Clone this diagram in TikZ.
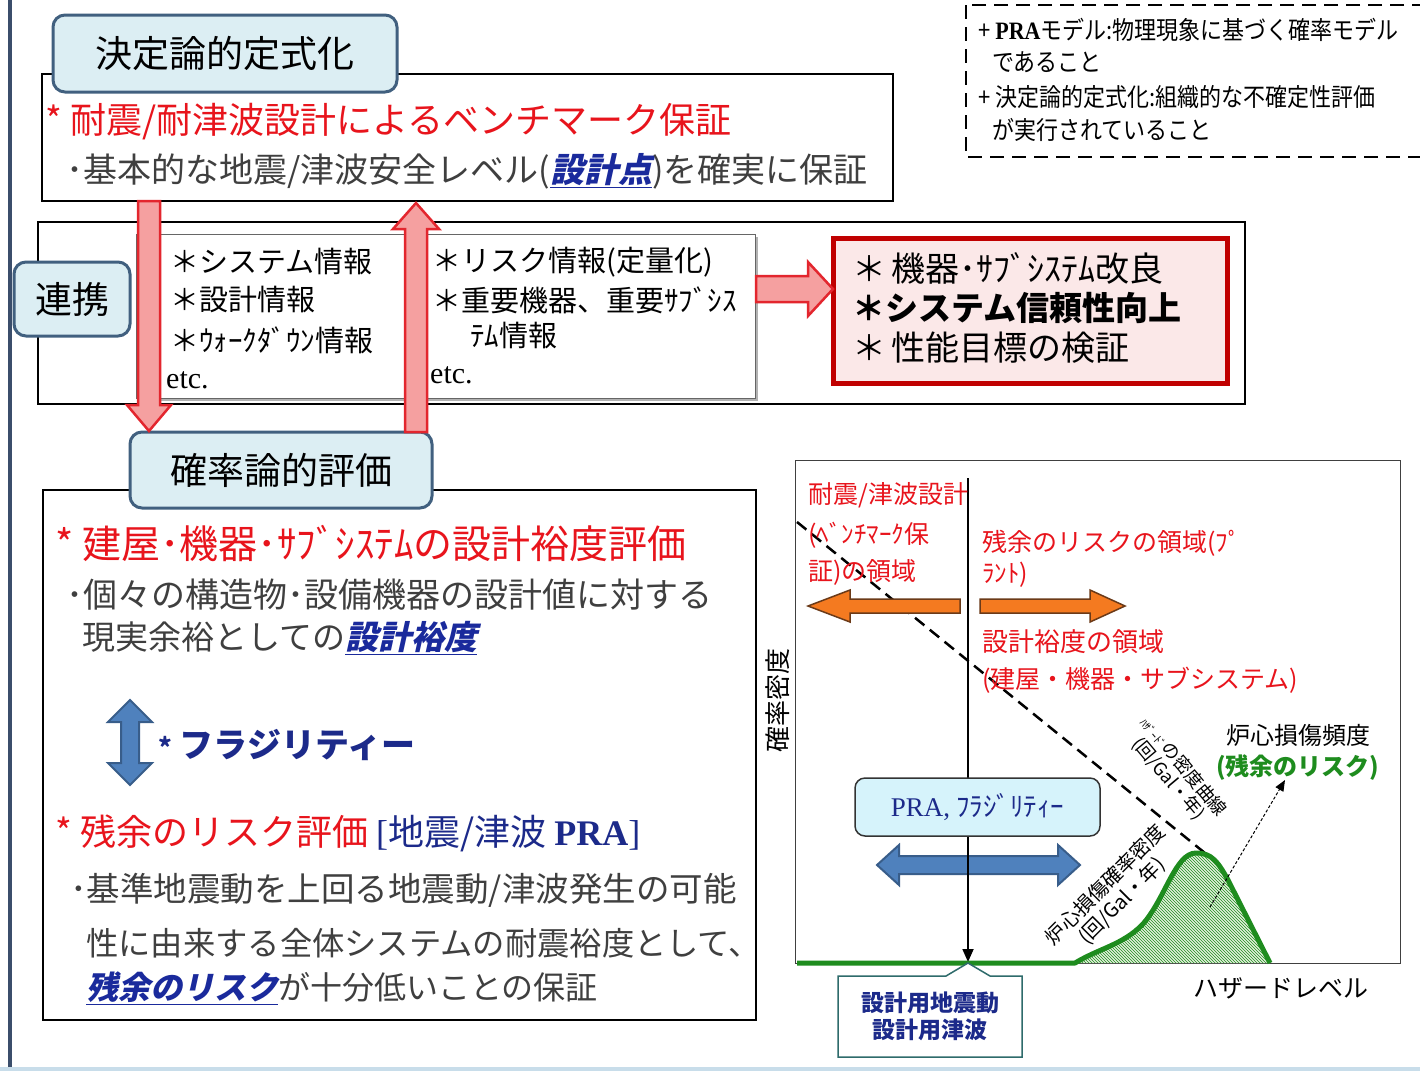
\documentclass[tikz,border=0pt]{standalone}
\usepackage{fontspec}
\usepackage{graphicx}
\setmainfont{Noto Sans CJK JP}
\newfontfamily\serif{Liberation Serif}
\newfontfamily\jpsl{Noto Sans CJK JP}[FakeSlant=0.22,BoldFeatures={FakeSlant=0.22}]
\usetikzlibrary{patterns,arrows.meta}
\newcommand\fs[1]{\fontsize{#1}{#1}\selectfont}
\newcommand\sx[2]{\scalebox{#1}[1]{#2}}
\newcommand\emb[1]{\underline{{\jpsl\bfseries #1}}}
\definecolor{tred}{HTML}{E8141C}
\definecolor{tgray}{HTML}{3F3F3F}
\definecolor{tblue}{HTML}{1A2A9C}
\definecolor{navytwo}{HTML}{1C2A8A}
\definecolor{boxfill}{HTML}{DCEEF3}
\definecolor{boxdraw}{HTML}{41607F}
\definecolor{arfill}{HTML}{4F81BD}
\definecolor{ardraw}{HTML}{385D8A}
\definecolor{orfill}{HTML}{F47A20}
\definecolor{ordraw}{HTML}{6B3A18}
\definecolor{rbfill}{HTML}{FBE8E8}
\definecolor{rbdraw}{HTML}{C00000}
\definecolor{rafill}{HTML}{F5A0A0}
\definecolor{radraw}{HTML}{E3262E}
\definecolor{prafill}{HTML}{D6F3FB}
\definecolor{calldraw}{HTML}{2E6B6B}
\definecolor{cgreen}{HTML}{1E8C1E}
\definecolor{hatchfill}{HTML}{E4F1DC}
\definecolor{leftbar}{HTML}{3B4E6B}
\definecolor{botline}{HTML}{C8DDEA}
\begin{document}
\begin{tikzpicture}[x=1pt,y=-1pt,
  txt/.style={inner sep=0pt,anchor=west},
  titlebox/.style={draw=boxdraw,fill=boxfill,line width=3pt,rounded corners=12pt,inner sep=0pt,font=\fs{37}},
  plainbox/.style={draw=black,line width=1.8pt,inner sep=0pt,fill=white},
  redarrow/.style={draw=radraw,fill=rafill,line width=2.5pt,line join=miter},
  bluearrow/.style={draw=ardraw,fill=arfill,line width=2pt},
  orarrow/.style={draw=ordraw,fill=orfill,line width=1.5pt}]
\useasboundingbox (0,0) rectangle (1420,1077);
\fill[white] (0,0) rectangle (1420,1077);
% frame decorations
\fill[leftbar] (8,0) rectangle (12,1068);
\fill[botline] (0,1067) rectangle (1420,1071);

% ---------- top: deterministic ----------
\node[plainbox,minimum width=851pt,minimum height=127pt] (detbox) at (467.5,137.5) {};
\node[titlebox,minimum width=344pt,minimum height=77pt] (ketei) at (225,53.5) {決定論的定式化};
\node[txt,text=tred,font=\fs{36}] (t1) at (45,122) {* 耐震/耐津波設計によるベンチマーク保証};
\node[txt,text=tgray,font=\fs{34}] (t2) at (66,171) {･基本的な地震/津波安全レベル(\textcolor{tblue}{\emb{設計点}})を確実に保証};

% ---------- dashed note ----------
\draw[dash pattern=on 14pt off 8pt,line width=2pt] (966,5) rectangle (1440,157);
\node[txt,font=\fs{25}] (n1) at (978,30) {\sx{0.88}{+ {\serif\bfseries PRA}モデル:物理現象に基づく確率モデル}};
\node[txt,font=\fs{25}] (n2) at (992,62) {\sx{0.88}{であること}};
\node[txt,font=\fs{25}] (n3) at (978,97) {\sx{0.88}{+ 決定論的定式化:組織的な不確定性評価}};
\node[txt,font=\fs{25}] (n4) at (992,130) {\sx{0.88}{が実行されていること}};

% ---------- middle: cooperation ----------
\node[plainbox,minimum width=1207pt,minimum height=182pt] (midbox) at (641.5,313) {};
\fill[black!30] (139,237) rectangle (758,401);
\node[draw=black!60,line width=1pt,fill=white,minimum width=619pt,minimum height=164pt,inner sep=0pt] (info) at (445.5,316) {};
\node[titlebox,minimum width=116pt,minimum height=74pt] (renkei) at (72,299) {連携};
\node[txt,font=\fs{29}] (s1) at (170,262) {＊システム情報};
\node[txt,font=\fs{29}] (s2) at (170,300) {＊設計情報};
\node[txt,font=\fs{29}] (s3) at (170,340) {＊ｳｫｰｸﾀﾞｳﾝ情報};
\node[txt,font=\serif\fs{30}] (s4) at (166,380) {etc.};
\node[txt,font=\fs{29}] (r1) at (432,262) {＊リスク情報(定量化)};
\node[txt,font=\fs{29}] (r2) at (432,300) {＊重要機器、重要ｻﾌﾞｼｽ};
\node[txt,font=\fs{29}] (r3) at (470,335) {ﾃﾑ情報};
\node[txt,font=\serif\fs{30}] (r4) at (430,375) {etc.};

\node[draw=rbdraw,fill=rbfill,line width=5pt,minimum width=394pt,minimum height=145pt,inner sep=0pt] (result) at (1030,310.5) {};
\node[txt,font=\fs{34}] (b1) at (852,268) {＊\,機器･ｻﾌﾞｼｽﾃﾑ改良};
\node[txt,font=\fs{33}\bfseries] (b2) at (852,308) {＊システム信頼性向上};
\node[txt,font=\fs{34}] (b3) at (852,348) {＊\,性能目標の検証};

% ---------- bottom-left: probabilistic ----------
\node[plainbox,minimum width=713pt,minimum height=530pt] (probbox) at (399.5,755) {};
\node[titlebox,minimum width=302pt,minimum height=76pt] (kakuritsu) at (281,470) {確率論的評価};

% red block arrows
\draw[redarrow] (138,201) -- (160,201) -- (160,405) -- (171,405) -- (149,431) -- (127,405) -- (138,405) -- cycle;
\draw[redarrow] (405,432) -- (427,432) -- (427,229) -- (439,229) -- (416,203) -- (393,229) -- (405,229) -- cycle;
\draw[redarrow] (756,276) -- (808,276) -- (808,262) -- (833,289) -- (808,316) -- (808,302) -- (756,302) -- cycle;

\node[txt,text=tred,font=\fs{39}] (p1) at (55,543) {* 建屋･機器･ｻﾌﾞｼｽﾃﾑの設計裕度評価};
\node[txt,text=tgray,font=\fs{34}] (p2) at (66,595) {･個々の構造物･設備機器の設計値に対する};
\node[txt,text=tgray,font=\fs{33}] (p3) at (82,638) {現実余裕としての\textcolor{tblue}{\emb{設計裕度}}};
\draw[bluearrow] (130,700) -- (152,722) -- (139,722) -- (139,763) -- (152,763) -- (130,785) -- (108,763) -- (121,763) -- (121,722) -- (108,722) -- cycle;
\node[txt,text=navytwo,font=\fs{34}\bfseries] (p4) at (158,745) {{\fs{26}*} フラジリティー};
\node[txt,font=\fs{36}] (p5) at (55,833) {\textcolor{tred}{* 残余のリスク評価} \textcolor{navytwo}{{\serif[}地震/津波 {\serif\bfseries PRA}{\serif]}}};
\node[txt,text=tgray,font=\fs{33.5}] (p6) at (70,890) {･基準地震動を上回る地震動/津波発生の可能};
\node[txt,text=tgray,font=\fs{32.3}] (p7) at (86,943) {性に由来する全体システムの耐震裕度として、};
\node[txt,text=tgray,font=\fs{32}] (p8) at (86,988) {\textcolor{tblue}{\emb{残余のリスク}}が十分低いことの保証};

% ---------- graph ----------
\node[draw=black!75,line width=1pt,minimum width=605pt,minimum height=503pt,inner sep=0pt] (graph) at (1097.5,711.5) {};
\path[fill=hatchfill] (1075,963) .. controls (1100,948) and (1122,945) .. (1142,925) .. controls (1165,900) and (1175,853) .. (1196,853) .. controls (1212,853) and (1218,862) .. (1228,880) -- (1270,963) -- cycle;
\path[pattern=north west lines,pattern color=cgreen] (1075,963) .. controls (1100,948) and (1122,945) .. (1142,925) .. controls (1165,900) and (1175,853) .. (1196,853) .. controls (1212,853) and (1218,862) .. (1228,880) -- (1270,963) -- cycle;
\draw[dash pattern=on 12pt off 7pt,line width=2.5pt] (797,522) -- (1216,862);

\coordinate (vtop) at (968,478);
\coordinate (vbot) at (968,962);
\draw[bluearrow] (877,865) -- (899,845) -- (899,856) -- (1058,856) -- (1058,845) -- (1080,865) -- (1058,885) -- (1058,874) -- (899,874) -- (899,885) -- cycle;
\draw[line width=1.8pt,-{Triangle[length=13pt,width=11pt]}] (vtop) -- (vbot);
\node[draw=black!80,line width=1.5pt,fill=prafill,rounded corners=10pt,minimum width=245pt,minimum height=58pt,inner sep=0pt,text=navytwo,font=\fs{27}] (prabox) at (977.5,807) {{\serif PRA,} ﾌﾗｼﾞﾘﾃｨｰ};
\draw[cgreen,line width=5pt,line join=round] (797,963) -- (1075,963) .. controls (1100,948) and (1122,945) .. (1142,925) .. controls (1165,900) and (1175,853) .. (1196,853) .. controls (1212,853) and (1218,862) .. (1228,880) -- (1270,963);

\draw[orarrow] (808,606) -- (850,590) -- (850,599) -- (960,599) -- (960,613) -- (850,613) -- (850,622) -- cycle;
\draw[orarrow] (980,599) -- (1090,599) -- (1090,590) -- (1125,606) -- (1090,622) -- (1090,613) -- (980,613) -- cycle;

\node[txt,text=tred,font=\fs{25}] (g1) at (808,495) {耐震/津波設計};
\node[txt,text=tred,font=\fs{25}] (g2) at (808,535) {(ﾍﾞﾝﾁﾏｰｸ保};
\node[txt,text=tred,font=\fs{25}] (g3) at (808,572) {証)の領域};
\node[txt,text=tred,font=\fs{25}] (g4) at (982,543) {残余のリスクの領域(ﾌﾟ};
\node[txt,text=tred,font=\fs{25}] (g5) at (982,575) {ﾗﾝﾄ)};
\node[txt,text=tred,font=\fs{26}] (g6) at (982,642) {設計裕度の領域};
\node[txt,text=tred,font=\fs{25}] (g7) at (982,680) {(建屋・機器・サブシステム)};
\node[inner sep=0pt,rotate=90,font=\fs{26}] (ylab) at (778,700) {確率密度};
\node[txt,font=\fs{24}] (g8) at (1226,735) {炉心損傷頻度};
\node[txt,text=cgreen,font=\fs{24}\bfseries] (g9) at (1216,768) {(残余のリスク)};
\node[inner sep=0pt,rotate=-50,align=center,font=\fs{18}] (hz) at (1176,773) {{\fs{11}ﾊｻﾞｰﾄﾞ}の密度曲線\\[1pt](回/Gal・年)};
\node[inner sep=0pt,rotate=45,align=center,font=\fs{20}] (cdf) at (1114,893) {炉心損傷確率密度\\[3pt](回/Gal・年)};
\coordinate (dstart) at (1210,907);
\coordinate (dend) at (1285,780);
\draw[line width=1pt,dash pattern=on 3pt off 2pt,-{Triangle[length=11pt,width=9pt]}] (dstart) -- (dend);

\draw[calldraw,line width=1.5pt,fill=white] (838,976) -- (946,976) -- (968,963) -- (990,976) -- (1022,976) -- (1022,1057) -- (838,1057) -- cycle;
\node[align=center,text=navytwo,font=\fs{23}\bfseries,inner sep=0pt] (callout) at (930,1016) {設計用地震動\\[4pt]設計用津波};
\node[txt,font=\fs{25}] (hl) at (1193,988) {ハザードレベル};
\end{tikzpicture}
\end{document}
